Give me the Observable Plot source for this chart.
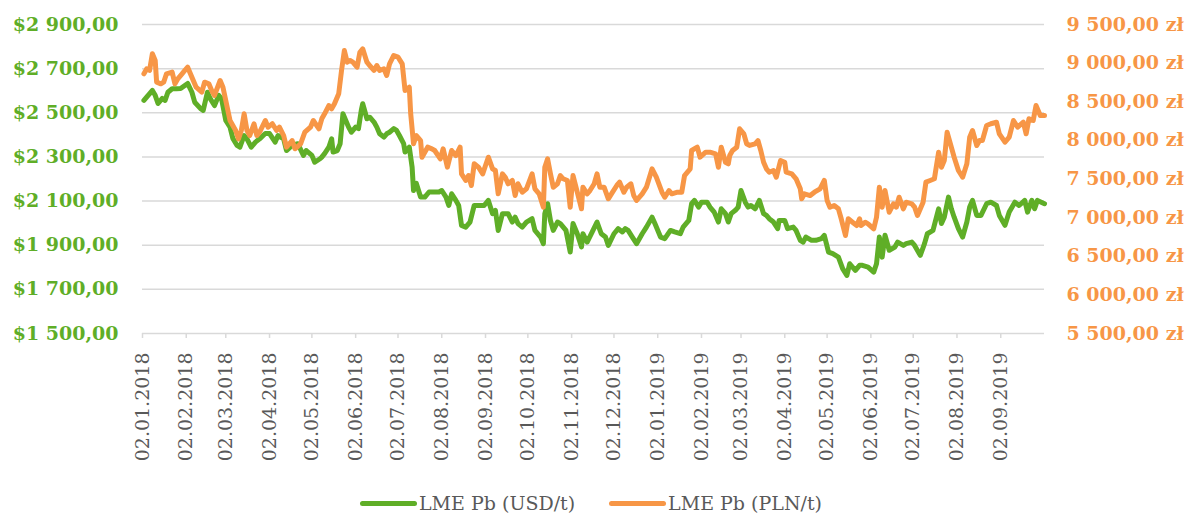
<!DOCTYPE html>
<html><head><meta charset="utf-8">
<script src="https://cdn.jsdelivr.net/npm/d3@7"></script>
<script src="https://cdn.jsdelivr.net/npm/@observablehq/plot@0.6"></script>
<style>
body{margin:0;background:#fff;font-family:"DejaVu Serif",serif;}
#legend{display:flex;align-items:center;height:36px;padding-left:360px;gap:34px;font-size:19px;color:#595959;}
.item{display:flex;align-items:center;white-space:nowrap;}
.sw{width:57px;height:5px;border-radius:3px;margin-right:2px;}
</style></head><body><div id="chart"></div><div id="legend"></div>
<script>
const seriesNames = ["LME Pb (USD/t)", "LME Pb (PLN/t)"];
const seriesColors = ["#5FAE27", "#F79646"];
const usdTicks = [1500, 1700, 1900, 2100, 2300, 2500, 2700, 2900];
const plnTicks = [5500, 6000, 6500, 7000, 7500, 8000, 8500, 9000, 9500];
const monthTicks = ["2018-01-02","2018-02-02","2018-03-02","2018-04-02","2018-05-02","2018-06-02","2018-07-02","2018-08-02","2018-09-02","2018-10-02","2018-11-02","2018-12-02","2019-01-02","2019-02-02","2019-03-02","2019-04-02","2019-05-02","2019-06-02","2019-07-02","2019-08-02","2019-09-02"];
const xDomain = ["2018-01-02", "2019-10-03"];

const usdSeries = [
["2018-01-03",2556],["2018-01-06",2579],["2018-01-09",2601],["2018-01-11",2579],["2018-01-13",2542],["2018-01-16",2565],["2018-01-18",2556],["2018-01-20",2593],["2018-01-23",2609],["2018-01-26",2609],["2018-01-29",2610],
["2018-02-01",2624],["2018-02-03",2633],["2018-02-06",2593],["2018-02-08",2548],["2018-02-12",2520],["2018-02-14",2511],["2018-02-17",2593],["2018-02-19",2564],["2018-02-22",2533],["2018-02-25",2579],["2018-02-27",2564],
["2018-03-02",2465],["2018-03-05",2435],["2018-03-07",2384],["2018-03-10",2352],["2018-03-12",2344],["2018-03-15",2397],["2018-03-17",2382],["2018-03-20",2344],["2018-03-23",2367],["2018-03-26",2382],["2018-03-30",2406],
["2018-04-02",2406],["2018-04-06",2367],["2018-04-08",2397],["2018-04-12",2382],["2018-04-14",2329],["2018-04-18",2352],["2018-04-22",2360],["2018-04-26",2307],["2018-04-28",2329],
["2018-05-02",2307],["2018-05-04",2276],["2018-05-08",2293],["2018-05-09",2299],["2018-05-11",2315],["2018-05-14",2344],["2018-05-16",2382],["2018-05-17",2322],["2018-05-20",2329],["2018-05-22",2360],["2018-05-24",2496],["2018-05-26",2465],["2018-05-28",2435],["2018-05-30",2412],
["2018-06-02",2435],["2018-06-04",2428],["2018-06-06",2511],["2018-06-07",2541],["2018-06-10",2473],["2018-06-12",2480],["2018-06-15",2458],["2018-06-17",2435],["2018-06-19",2405],["2018-06-22",2390],["2018-06-24",2405],["2018-06-26",2412],["2018-06-29",2428],
["2018-07-01",2420],["2018-07-03",2397],["2018-07-06",2360],["2018-07-07",2322],["2018-07-10",2344],["2018-07-12",2254],["2018-07-13",2148],["2018-07-15",2180],["2018-07-18",2118],["2018-07-21",2118],["2018-07-24",2141],["2018-07-27",2141],["2018-07-31",2141],
["2018-08-02",2148],["2018-08-05",2118],["2018-08-07",2080],["2018-08-09",2133],["2018-08-12",2103],["2018-08-14",2080],["2018-08-16",1990],["2018-08-19",1982],["2018-08-22",2005],["2018-08-25",2080],["2018-08-28",2080],
["2018-09-01",2080],["2018-09-04",2103],["2018-09-07",2043],["2018-09-09",2058],["2018-09-11",1967],["2018-09-14",2043],["2018-09-16",2043],["2018-09-18",2043],["2018-09-21",2005],["2018-09-23",2027],["2018-09-25",1998],["2018-09-28",1982],
["2018-10-01",2005],["2018-10-05",2020],["2018-10-07",1967],["2018-10-11",1937],["2018-10-13",1907],["2018-10-14",2043],["2018-10-16",2088],["2018-10-18",2012],["2018-10-20",1967],["2018-10-23",2005],["2018-10-25",1998],["2018-10-29",1967],
["2018-11-01",1869],["2018-11-03",1998],["2018-11-06",1952],["2018-11-09",1892],["2018-11-10",1952],["2018-11-13",1914],["2018-11-16",1952],["2018-11-20",2005],["2018-11-23",1952],["2018-11-26",1937],["2018-11-28",1899],
["2018-12-02",1952],["2018-12-05",1975],["2018-12-08",1960],["2018-12-10",1975],["2018-12-12",1967],["2018-12-15",1937],["2018-12-18",1907],["2018-12-22",1952],["2018-12-25",1982],["2018-12-29",2027],["2018-12-31",1998],
["2019-01-04",1937],["2019-01-07",1930],["2019-01-11",1967],["2019-01-14",1960],["2019-01-18",1952],["2019-01-20",1982],["2019-01-24",2012],["2019-01-26",2088],["2019-01-28",2103],["2019-01-31",2073],
["2019-02-02",2095],["2019-02-06",2095],["2019-02-08",2073],["2019-02-11",2050],["2019-02-14",2005],["2019-02-16",2065],["2019-02-19",2043],["2019-02-21",2005],["2019-02-23",2043],["2019-02-26",2058],["2019-02-28",2073],
["2019-03-02",2148],["2019-03-05",2095],["2019-03-07",2073],["2019-03-09",2080],["2019-03-12",2065],["2019-03-15",2103],["2019-03-18",2043],["2019-03-20",2035],["2019-03-22",2020],["2019-03-25",2005],["2019-03-28",1975],["2019-03-29",2012],
["2019-04-02",2012],["2019-04-04",1975],["2019-04-08",1982],["2019-04-10",1967],["2019-04-13",1922],["2019-04-15",1914],["2019-04-17",1937],["2019-04-21",1922],["2019-04-24",1922],["2019-04-28",1930],["2019-04-30",1945],
["2019-05-03",1869],["2019-05-06",1862],["2019-05-10",1846],["2019-05-13",1794],["2019-05-16",1763],["2019-05-18",1816],["2019-05-22",1786],["2019-05-25",1809],["2019-05-27",1809],["2019-05-31",1801],
["2019-06-04",1778],["2019-06-06",1816],["2019-06-08",1937],["2019-06-10",1846],["2019-06-12",1945],["2019-06-15",1877],["2019-06-19",1892],["2019-06-21",1914],["2019-06-25",1899],["2019-06-27",1907],
["2019-07-01",1914],["2019-07-03",1899],["2019-07-07",1854],["2019-07-10",1907],["2019-07-12",1952],["2019-07-16",1967],["2019-07-20",2065],["2019-07-22",1998],["2019-07-24",2027],["2019-07-27",2118],["2019-07-29",2065],["2019-07-31",2027],
["2019-08-03",1975],["2019-08-06",1937],["2019-08-09",2005],["2019-08-11",2073],["2019-08-13",2103],["2019-08-16",2035],["2019-08-19",2035],["2019-08-23",2088],["2019-08-26",2095],["2019-08-30",2080],
["2019-09-01",2035],["2019-09-05",1990],["2019-09-08",2050],["2019-09-12",2095],["2019-09-15",2080],["2019-09-19",2103],["2019-09-21",2050],["2019-09-24",2103],["2019-09-26",2065],["2019-09-28",2103],["2019-10-03",2088]
];

const plnSeries = [
["2018-01-03",8862],["2018-01-05",8927],["2018-01-07",8905],["2018-01-09",9121],["2018-01-11",9034],["2018-01-12",8753],["2018-01-15",8732],["2018-01-17",8753],["2018-01-19",8862],["2018-01-23",8883],["2018-01-25",8732],["2018-01-27",8797],["2018-01-30",8862],
["2018-02-01",8905],["2018-02-03",8947],["2018-02-06",8818],["2018-02-09",8688],["2018-02-13",8624],["2018-02-15",8753],["2018-02-18",8732],["2018-02-20",8646],["2018-02-22",8581],["2018-02-26",8775],["2018-02-28",8688],
["2018-03-03",8429],["2018-03-05",8257],["2018-03-09",8128],["2018-03-11",8020],["2018-03-13",8128],["2018-03-15",8344],["2018-03-17",8128],["2018-03-19",8063],["2018-03-22",8215],["2018-03-24",8063],["2018-03-26",8106],["2018-03-30",8257],
["2018-04-01",8171],["2018-04-04",8215],["2018-04-07",8128],["2018-04-09",8171],["2018-04-12",8063],["2018-04-14",7912],["2018-04-18",7998],["2018-04-20",7891],["2018-04-24",7956],["2018-04-27",8106],
["2018-05-01",8171],["2018-05-03",8257],["2018-05-07",8150],["2018-05-09",8279],["2018-05-11",8344],["2018-05-14",8451],["2018-05-16",8409],["2018-05-18",8473],["2018-05-21",8603],["2018-05-23",8905],["2018-05-25",9163],["2018-05-27",9012],["2018-05-29",9034],["2018-05-31",9012],
["2018-06-03",8947],["2018-06-05",9141],["2018-06-07",9185],["2018-06-10",9012],["2018-06-12",8969],["2018-06-15",8905],["2018-06-17",8969],["2018-06-19",8905],["2018-06-22",8927],["2018-06-24",8840],["2018-06-26",8991],["2018-06-29",9099],
["2018-07-02",9077],["2018-07-05",8991],["2018-07-07",8646],["2018-07-10",8688],["2018-07-11",8344],["2018-07-13",7956],["2018-07-15",8063],["2018-07-18",7998],["2018-07-19",7782],["2018-07-23",7912],["2018-07-26",7891],["2018-07-28",7869],
["2018-08-01",7761],["2018-08-03",7891],["2018-08-06",7653],["2018-08-09",7869],["2018-08-12",7804],["2018-08-15",7912],["2018-08-16",7567],["2018-08-19",7481],["2018-08-21",7545],["2018-08-23",7416],["2018-08-25",7697],["2018-08-28",7653],["2018-08-31",7567],
["2018-09-02",7675],["2018-09-04",7782],["2018-09-07",7632],["2018-09-09",7610],["2018-09-11",7308],["2018-09-14",7567],["2018-09-16",7523],["2018-09-18",7438],["2018-09-21",7481],["2018-09-23",7286],["2018-09-25",7438],["2018-09-28",7329],
["2018-10-01",7373],["2018-10-05",7567],["2018-10-07",7373],["2018-10-10",7308],["2018-10-13",7135],["2018-10-14",7653],["2018-10-16",7761],["2018-10-18",7567],["2018-10-20",7394],["2018-10-23",7438],["2018-10-25",7545],["2018-10-27",7503],["2018-10-30",7481],
["2018-11-01",7135],["2018-11-03",7545],["2018-11-06",7329],["2018-11-09",7114],["2018-11-10",7394],["2018-11-13",7308],["2018-11-15",7351],["2018-11-18",7438],["2018-11-20",7567],["2018-11-22",7394],["2018-11-25",7394],["2018-11-28",7244],
["2018-12-01",7329],["2018-12-04",7416],["2018-12-06",7459],["2018-12-09",7329],["2018-12-11",7394],["2018-12-14",7438],["2018-12-16",7286],["2018-12-18",7222],["2018-12-22",7308],["2018-12-25",7394],["2018-12-29",7632],
["2019-01-01",7523],["2019-01-05",7329],["2019-01-07",7264],["2019-01-10",7351],["2019-01-12",7308],["2019-01-16",7329],["2019-01-19",7329],["2019-01-21",7545],["2019-01-25",7632],["2019-01-26",7869],["2019-01-30",7912],
["2019-02-01",7782],["2019-02-05",7847],["2019-02-08",7847],["2019-02-12",7826],["2019-02-14",7653],["2019-02-16",7912],["2019-02-19",7717],["2019-02-21",7697],["2019-02-22",7804],["2019-02-24",7869],["2019-02-27",7912],
["2019-03-01",8150],["2019-03-04",8085],["2019-03-06",7956],["2019-03-08",7934],["2019-03-12",7956],["2019-03-14",7998],["2019-03-16",7869],["2019-03-18",7717],["2019-03-20",7632],["2019-03-22",7588],["2019-03-25",7610],["2019-03-27",7523],["2019-03-30",7739],
["2019-04-02",7717],["2019-04-03",7588],["2019-04-07",7567],["2019-04-10",7503],["2019-04-13",7373],["2019-04-14",7244],["2019-04-16",7308],["2019-04-20",7286],["2019-04-23",7329],["2019-04-27",7373],["2019-04-30",7481],
["2019-05-02",7222],["2019-05-04",7135],["2019-05-07",7157],["2019-05-10",7114],["2019-05-12",6985],["2019-05-15",6769],["2019-05-17",6985],["2019-05-20",6941],["2019-05-23",6898],["2019-05-25",6985],["2019-05-26",6898],["2019-05-29",6941],["2019-05-31",6920],
["2019-06-04",6855],["2019-06-06",7005],["2019-06-08",7394],["2019-06-10",7135],["2019-06-12",7351],["2019-06-15",7070],["2019-06-18",7179],["2019-06-20",7135],["2019-06-22",7264],["2019-06-25",7114],["2019-06-27",7200],
["2019-07-01",7179],["2019-07-03",7135],["2019-07-05",7028],["2019-07-09",7200],["2019-07-11",7459],["2019-07-14",7481],["2019-07-17",7503],["2019-07-20",7847],["2019-07-22",7653],["2019-07-24",7739],["2019-07-26",8106],["2019-07-29",7912],["2019-07-31",7782],
["2019-08-03",7610],["2019-08-06",7523],["2019-08-09",7697],["2019-08-11",8041],["2019-08-13",8128],["2019-08-16",7934],["2019-08-18",7998],["2019-08-20",7998],["2019-08-23",8193],["2019-08-26",8215],["2019-08-30",8235],
["2019-09-01",8085],["2019-09-05",7976],["2019-09-08",8041],["2019-09-11",8257],["2019-09-14",8171],["2019-09-18",8235],["2019-09-20",8085],["2019-09-22",8279],["2019-09-25",8257],["2019-09-27",8451],["2019-09-30",8322],["2019-10-03",8322]
];

const parse = d3.utcParse("%Y-%m-%d");
const usdDomain = [usdTicks[0], usdTicks[usdTicks.length - 1]];
const plnDomain = [plnTicks[0], plnTicks[plnTicks.length - 1]];
const plnToLeft = v => usdDomain[0] + (v - plnDomain[0]) * (usdDomain[1] - usdDomain[0]) / (plnDomain[1] - plnDomain[0]);
const leftToPln = v => plnDomain[0] + (v - usdDomain[0]) * (plnDomain[1] - plnDomain[0]) / (usdDomain[1] - usdDomain[0]);

const usdFmt = d3.formatLocale({decimal: ",", thousands: " ", grouping: [3], currency: ["$", ""]}).format("$,.2f");
const plnFmt = d3.formatLocale({decimal: ",", thousands: " ", grouping: [3], currency: ["", " zł"]}).format("$,.2f");
const dateFmt = d3.utcFormat("%d.%m.%Y");

const usdData = usdSeries.map(([d, v]) => ({date: parse(d), value: v}));
const plnData = plnSeries.map(([d, v]) => ({date: parse(d), value: v}));

const chart = Plot.plot({
  width: 1189,
  height: 485,
  marginLeft: 142,
  marginRight: 145,
  marginTop: 24,
  marginBottom: 152,
  style: {fontFamily: "'DejaVu Serif', serif", background: "white", overflow: "visible"},
  x: {type: "utc", domain: xDomain.map(parse), label: null},
  y: {domain: usdDomain, label: null},
  marks: [
    Plot.gridY(usdTicks, {stroke: "#d9d9d9", strokeOpacity: 1, strokeWidth: 1.5}),
    Plot.axisX(monthTicks.map(parse), {tickRotate: -90, tickFormat: dateFmt, tickSize: 5, tickPadding: 14, stroke: "#d9d9d9", strokeWidth: 1.5, fill: "#595959", fontSize: 19, label: null}),
    Plot.axisY(usdTicks, {anchor: "left", tickSize: 0, tickPadding: 24, tickFormat: usdFmt, fill: seriesColors[0], fontWeight: "bold", fontSize: 19, label: null}),
    Plot.axisY(plnTicks.map(plnToLeft), {anchor: "right", tickSize: 0, tickPadding: 22, tickFormat: d => plnFmt(Math.round(leftToPln(d))), fill: seriesColors[1], fontWeight: "bold", fontSize: 19, label: null}),
    Plot.lineY(usdData, {x: "date", y: "value", stroke: seriesColors[0], strokeWidth: 5, strokeLinejoin: "round", strokeLinecap: "round"}),
    Plot.lineY(plnData, {x: "date", y: d => plnToLeft(d.value), stroke: seriesColors[1], strokeWidth: 5, strokeLinejoin: "round", strokeLinecap: "round"})
  ]
});
document.getElementById("chart").appendChild(chart);

const legend = document.getElementById("legend");
seriesNames.forEach((name, i) => {
  const item = document.createElement("div");
  item.className = "item";
  const sw = document.createElement("span");
  sw.className = "sw";
  sw.style.background = seriesColors[i];
  const t = document.createElement("span");
  t.textContent = name;
  item.appendChild(sw);
  item.appendChild(t);
  legend.appendChild(item);
});
</script>
</body></html>
